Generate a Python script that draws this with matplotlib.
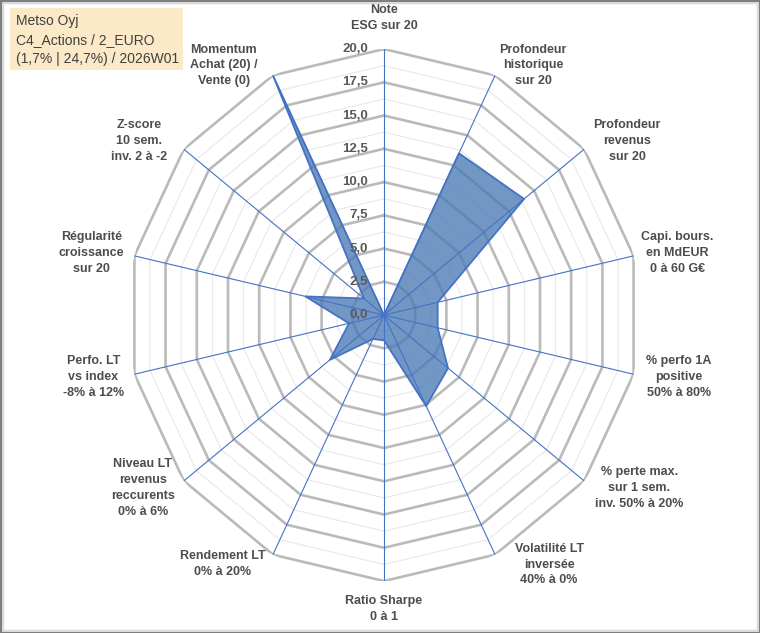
import numpy as np
import matplotlib
matplotlib.use("Agg")
import matplotlib.pyplot as plt
from matplotlib.patches import Rectangle

plt.rcParams['font.family'] = ['Liberation Sans', 'DejaVu Sans']

# axes of the radar, clockwise from the top
categories = [
    "Note\nESG sur 20",
    "Profondeur\nhistorique\nsur 20",
    "Profondeur\nrevenus\nsur 20",
    "Capi. bours.\nen MdEUR\n0 à 60 G€",
    "% perfo 1A\npositive\n50% à 80%",
    "% perte max.\nsur 1 sem.\ninv. 50% à 20%",
    "Volatilité LT\ninversée\n40% à 0%",
    "Ratio Sharpe\n0 à 1",
    "Rendement LT\n0% à 20%",
    "Niveau LT\nrevenus\nreccurents\n0% à 6%",
    "Perfo. LT\nvs index\n-8% à 12%",
    "Régularité\ncroissance\nsur 20",
    "Z-score\n10 sem.\ninv. 2 à -2",
    "Momentum\nAchat (20) /\nVente (0)",
]
values = [0.0, 13.5, 14.0, 4.3, 4.3, 6.4, 7.6, 1.9, 2.0, 5.4, 2.8, 6.3, 2.0, 20.0]
r_ticks = [0.0, 2.5, 5.0, 7.5, 10.0, 12.5, 15.0, 17.5, 20.0]
r_tick_labels = ["0,0", "2,5", "5,0", "7,5", "10,0", "12,5", "15,0", "17,5", "20,0"]
title_lines = ["Metso Oyj", "C4_Actions / 2_EURO", "(1,7% | 24,7%) / 2026W01"]

# label offsets from the outer vertex, in pixels (right, down)
label_offsets = [(0, -31), (38, -10), (43, -8), (44, -3), (45, 3), (55, 7), (54, 10),
                 (0, 28), (-50, 9), (-41, 7), (-41, 3), (-43, -3), (-45, -8), (-49, -10)]

fig = plt.figure(figsize=(7.6, 6.33), dpi=100)
ax = fig.add_axes([0.1684, 0.0821, 0.6737, 0.8404], projection='polar')
ax.set_aspect('auto')
ax.set_theta_zero_location('N')
ax.set_theta_direction(-1)
ax.set_ylim(0, 20)
ax.grid(False)
ax.spines['polar'].set_visible(False)
ax.set_xticks([])
ax.set_yticks([])
ax.patch.set_alpha(0)

n = len(categories)
angles = np.arange(n) * 2 * np.pi / n
ring = np.append(angles, angles[0])

# polygon grid: minor rings between the major ones
for r in np.arange(1.25, 20, 2.5):
    ax.plot(ring, [r] * (n + 1), color='#E8E8E8', lw=0.8, zorder=1)
for r in r_ticks[1:]:
    ax.plot(ring, [r] * (n + 1), color='#BABABA', lw=1.9, zorder=1)

for a in angles:
    ax.plot([a, a], [0, 20], color='#4472C4', lw=0.8, zorder=4)

vals = values + values[:1]
ax.fill(ring, vals, color='#4A7AB5', alpha=0.78, lw=0, zorder=3)
ax.plot(ring, vals, color='#4472C4', lw=1.3, zorder=5)

for t, lab in zip(r_ticks, r_tick_labels):
    ax.annotate(lab, xy=(0, t), xytext=(-16, 0), textcoords='offset pixels',
                ha='right', va='center', fontsize=9.5, fontweight='bold',
                color='#595959', zorder=6)

for a, lab, (dx, dy) in zip(angles, categories, label_offsets):
    ax.annotate(lab, xy=(a, 20), xytext=(dx, -dy), textcoords='offset pixels',
                ha='center', va='center', multialignment='center',
                fontsize=9, fontweight='bold', color='#4D4D4D', linespacing=1.42,
                annotation_clip=False)

# title box
W, H = 760, 633
fig.patches.append(Rectangle((10 / W, 1 - 70 / H), 173 / W, 62 / H, transform=fig.transFigure,
                             facecolor='#FCE9C7', edgecolor='none', zorder=0))
for i, line in enumerate(title_lines):
    fig.text(16 / W, 1 - (21 + 19 * i) / H, line, ha='left', va='center',
             fontsize=10, color='#404040')

# frame
fig.patches.append(Rectangle((3 / W, 3 / H), 1 - 6 / W, 1 - 6 / H, transform=fig.transFigure,
                             fill=False, edgecolor='#D9D9D9', lw=1))
fig.patches.append(Rectangle((0, 0), 1, 1, transform=fig.transFigure,
                             fill=False, edgecolor='#7F7F7F', lw=2.5))

fig.savefig('out.png', dpi=100)
